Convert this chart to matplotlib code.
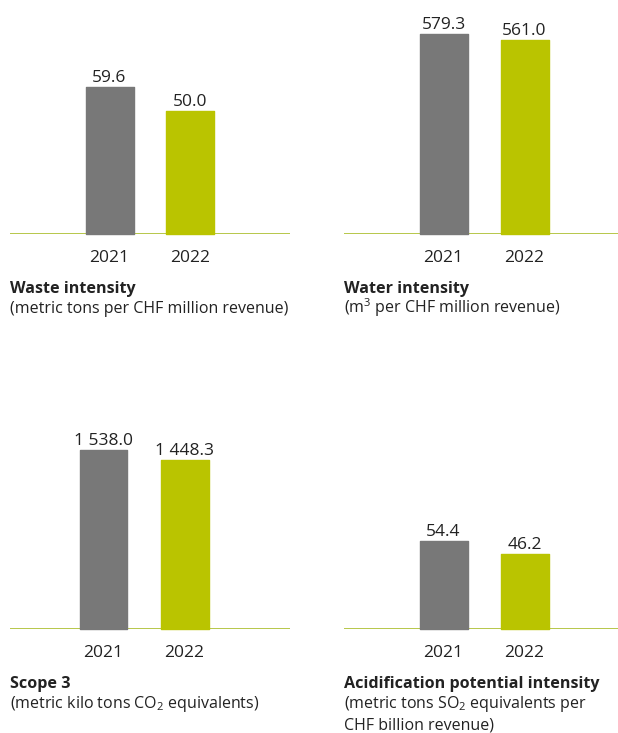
import matplotlib
matplotlib.use("Agg")
import matplotlib.pyplot as plt

plt.rcParams["font.family"] = ["Open Sans", "DejaVu Sans"]
plt.rcParams["mathtext.default"] = "regular"

years = ["2021", "2022"]

waste_intensity = [59.6, 50.0]
water_intensity = [579.3, 561.0]
scope3 = [1538.0, 1448.3]
acidification = [54.4, 46.2]

value_labels = {
    "waste": ["59.6", "50.0"],
    "water": ["579.3", "561.0"],
    "scope3": ["1 538.0", "1 448.3"],
    "acid": ["54.4", "46.2"],
}

titles = {
    "waste": ("Waste intensity", "(metric tons per CHF million revenue)"),
    "water": ("Water intensity", "(m$^3$ per CHF million revenue)"),
    "scope3": ("Scope 3", "(metric kilo tons CO$_2$ equivalents)"),
    "acid": ("Acidification potential intensity",
             "(metric tons SO$_2$ equivalents per\nCHF billion revenue)"),
}

GREY = "#787878"
GREEN = "#bac400"
BASE = "#b8c84e"
TEXT = "#222222"

W, H = 618, 733
PX = 72 / 100  # points per pixel
fig = plt.figure(figsize=(W / 100, H / 100), dpi=100)

# panel layout in pixels: (key, values, left, right, baseline_y, first bar center, tallest bar px)
panels = [
    ("waste", waste_intensity, 10, 290, 234, 109.5, 147),
    ("water", water_intensity, 344, 618, 234, 443.5, 200),
    ("scope3", scope3, 10, 290, 629, 103.5, 179),
    ("acid", acidification, 344, 618, 629, 443.5, 88),
]

step = 81.0   # px between bar centers
ax_h = 200.0  # px height of each axes

for key, vals, left, right, base_y, c0, top_px in panels:
    ax = fig.add_axes([left / W, (H - base_y) / H, (right - left) / W, ax_h / H])
    ax.set_xlim((left - c0) / step, (right - c0) / step)
    ax.set_ylim(0, max(vals) * ax_h / top_px)
    bars = ax.bar([0, 1], vals, width=48 / step, color=[GREY, GREEN],
                  edgecolor=[GREY, GREEN], linewidth=1, joinstyle="round",
                  clip_on=False, zorder=2)
    for b, lab in zip(bars, value_labels[key]):
        ax.annotate(lab, (b.get_x() + b.get_width() / 2, b.get_height()),
                    xytext=(0, 5 * PX), textcoords="offset points",
                    ha="center", va="baseline", fontsize=12.5, color=TEXT)
    ax.axhline(0, color=BASE, linewidth=2 * PX, zorder=1)
    ax.set_xticks([0, 1])
    ax.set_xticklabels(years, fontsize=12.5, color=TEXT)
    for t in ax.get_xticklabels():
        t.set_verticalalignment("baseline")
    ax.tick_params(axis="x", length=0, pad=28 * PX)
    ax.set_yticks([])
    for s in ax.spines.values():
        s.set_visible(False)
    ax.patch.set_alpha(0)

    title, sub = titles[key]
    fig.text(left / W, 1 - (base_y + 59) / H, title, fontsize=11.6,
             fontweight="bold", color=TEXT, ha="left", va="baseline")
    lines = sub.split("\n")
    for i, line in enumerate(lines):
        fig.text(left / W, 1 - (base_y + 79 + 21 * i) / H, line, fontsize=11.5,
                 color=TEXT, ha="left", va="baseline")

fig.savefig("out.png", dpi=100)
